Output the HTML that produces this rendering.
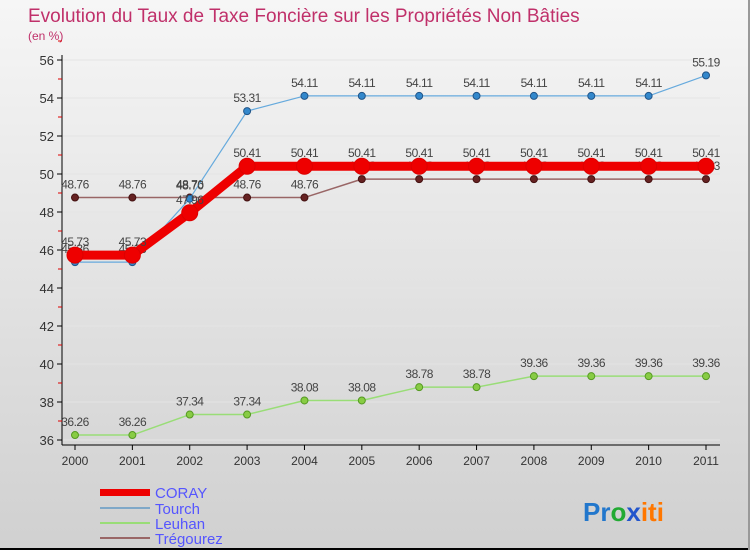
<!DOCTYPE html>
<html><head><meta charset="utf-8"><style>
body{margin:0;width:750px;height:550px;overflow:hidden;font-family:"Liberation Sans",sans-serif}
svg{display:block}
</style></head><body>
<svg id="c" width="750" height="550">
<defs><linearGradient id="bg" x1="0" y1="0" x2="0" y2="1"><stop offset="0" stop-color="#f6f6f6"/><stop offset="1" stop-color="#d0d0d0"/></linearGradient></defs>
<rect width="750" height="550" fill="url(#bg)"/>
<rect x="0" y="548" width="750" height="2" fill="#000"/>
<rect x="748" y="0" width="2" height="550" fill="#999"/>
<text x="28" y="22" font-size="19" fill="#c0306a">Evolution du Taux de Taxe Foncière sur les Propriétés Non Bâties</text>
<text x="28" y="40" font-size="12" fill="#c0306a">(en %)</text>
<g id="grid"></g><g id="axes"></g><g id="series"></g>
<g>
<rect x="100" y="489" width="50" height="7" fill="#e00"/>
<text x="155" y="498" font-size="15" fill="#5555ff">CORAY</text>
<rect x="100" y="507" width="50" height="2" fill="#7fa8c8"/>
<text x="155" y="514" font-size="15" fill="#5555ff">Tourch</text>
<rect x="100" y="522" width="50" height="2" fill="#99dd77"/>
<text x="155" y="529" font-size="15" fill="#5555ff">Leuhan</text>
<rect x="100" y="537" width="50" height="2" fill="#996666"/>
<text x="155" y="544" font-size="15" fill="#5555ff">Trégourez</text>
</g>
<text x="583" y="521" font-size="26" font-weight="bold"><tspan fill="#2277cc">Pr</tspan><tspan fill="#22aa33">o</tspan><tspan fill="#2255cc">x</tspan><tspan fill="#ff7700">iti</tspan></text>
</svg>
<script>
const years=[2000,2001,2002,2003,2004,2005,2006,2007,2008,2009,2010,2011];
const yTicks=[36,38,40,42,44,46,48,50,52,54,56];
const coray=[45.73,45.73,47.96,50.41,50.41,50.41,50.41,50.41,50.41,50.41,50.41,50.41];
const tourch=[45.36,45.36,48.7,53.31,54.11,54.11,54.11,54.11,54.11,54.11,54.11,55.19];
const leuhan=[36.26,36.26,37.34,37.34,38.08,38.08,38.78,38.78,39.36,39.36,39.36,39.36];
const tregourez=[48.76,48.76,48.76,48.76,48.76,49.73,49.73,49.73,49.73,49.73,49.73,49.73];
const NS='http://www.w3.org/2000/svg';
const X=i=>75+i*(706-75)/(years.length-1);
const Y=v=>440-(v-36)*19;
function mk(p,t,a){const e=document.createElementNS(NS,t);for(const k in a)e.setAttribute(k,a[k]);p.appendChild(e);return e;}
const G=document.getElementById('grid'),A=document.getElementById('axes'),S=document.getElementById('series');
mk(A,'line',{x1:62,y1:55,x2:62,y2:445,stroke:'#000'});
mk(A,'line',{x1:62,y1:445,x2:720,y2:445,stroke:'#000'});
yTicks.forEach(v=>{
 const l=mk(G,'line',{x1:62,x2:720,y1:Y(v),y2:Y(v),stroke:'#e4e4e4'});
 
 
 mk(A,'line',{x1:57,x2:62,y1:Y(v),y2:Y(v),stroke:'#000'});
 mk(A,'line',{x1:58,x2:62,y1:Y(v+1),y2:Y(v+1),stroke:'#d00'});
 const t=mk(A,'text',{x:54,y:Y(v)+5,'text-anchor':'end','font-size':13,fill:'#333'});
 t.textContent=v;
 
 
});
years.forEach((yr,i)=>{
 mk(A,'line',{x1:X(i),x2:X(i),y1:445,y2:450,stroke:'#000'});
 const t=mk(A,'text',{x:X(i),y:465,'text-anchor':'middle','font-size':12,fill:'#333'});
 t.textContent=yr;
 
 
});
function series(name,data,col,w,r,fill,stroke){
 const g=mk(S,'g',{});
 
 
 mk(g,'polyline',{points:data.map((v,i)=>X(i)+','+Y(v)).join(' '),fill:'none',stroke:col,'stroke-width':w,'stroke-linejoin':'round'});
 data.forEach((v,i)=>{
  const c=mk(g,'circle',{cx:X(i),cy:Y(v),r:r,fill:fill,stroke:stroke});
  
  
  const t=mk(g,'text',{x:X(i),y:Y(v)-9,'text-anchor':'middle','font-size':12,fill:'#444','letter-spacing':'-0.5'});
  t.textContent=v.toFixed(2);
  
  
 });
}
series('leuhan',leuhan,'#99dd77',1.5,3.5,'#88cc44','#559922');
series('tregourez',tregourez,'#996666',1.5,3.5,'#662222','#441111');
series('tourch',tourch,'#66aadd',1.2,3.5,'#3388cc','#225588');
series('coray',coray,'#ee0000',9,8,'#ee0000','#dd0000');
</script>
</body></html>
